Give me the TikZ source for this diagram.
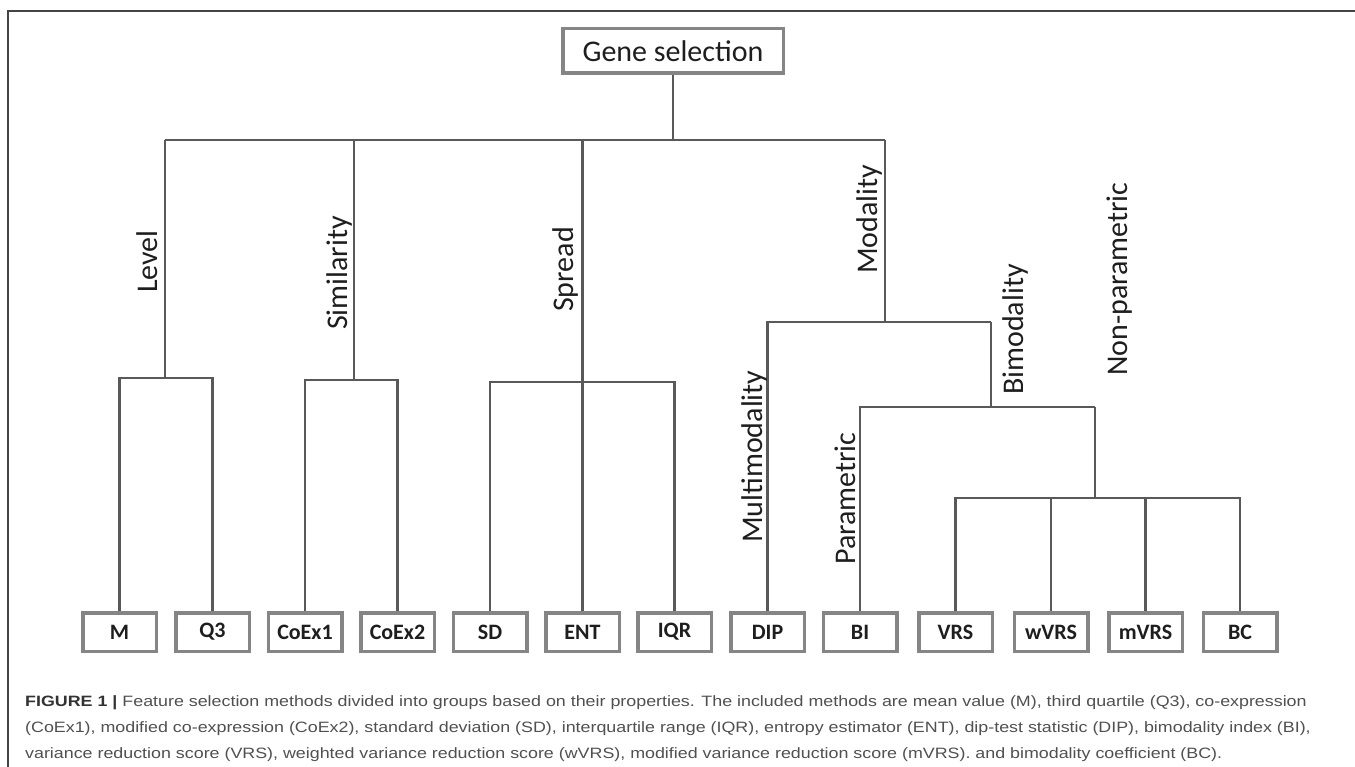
\documentclass[tikz,border=0pt]{standalone}
\usepackage{fontspec}
\setmainfont{Carlito}
\newfontfamily\capfont[FakeStretch=1.19]{Liberation Sans}
\definecolor{linec}{HTML}{595959}
\definecolor{boxc}{HTML}{858585}
\definecolor{framec}{HTML}{444444}
\definecolor{capc}{HTML}{505050}
\definecolor{capb}{HTML}{333333}
\definecolor{labc}{HTML}{1E1E1E}
\begin{document}
\begin{tikzpicture}[x=1pt,y=-1pt,
  leaf/.style={draw=boxc,line width=3.5pt,minimum width=73.5pt,minimum height=38.5pt,inner sep=0pt,
    font=\fontsize{22}{22}\selectfont\bfseries,text=labc},
  rootbox/.style={draw=boxc,line width=3.5pt,minimum width=220.5pt,minimum height=44.5pt,inner sep=0pt,
    font=\fontsize{30}{30}\selectfont,text=labc},
  conn/.style={draw=linec,line width=2.5pt},
  lab/.style={rotate=90,anchor=base west,inner sep=0pt,font=\fontsize{30}{30}\selectfont,text=labc},
]
\useasboundingbox (0,0) rectangle (1355,767);
\fill[white] (0,0) rectangle (1355,767);
% frame
\draw[framec,line width=1.6pt] (8,767) -- (8,11) -- (1355,11);

% root
\node[rootbox] (gs) at (673,51) {Gene selection};

% leaves
\node[leaf] (M) at (119.5,632) {M};
\node[leaf] (Q3) at (212.5,632) {Q3};
\node[leaf] (CoEx1) at (305,632) {CoEx1};
\node[leaf] (CoEx2) at (397.5,632) {CoEx2};
\node[leaf] (SD) at (490,632) {SD};
\node[leaf] (ENT) at (582.5,632) {ENT};
\node[leaf] (IQR) at (674.5,632) {IQR};
\node[leaf] (DIP) at (767.5,632) {DIP};
\node[leaf] (BI) at (860,632) {BI};
\node[leaf] (VRS) at (955.5,632) {VRS};
\node[leaf] (wVRS) at (1051,632) {wVRS};
\node[leaf] (mVRS) at (1145.5,632) {mVRS};
\node[leaf] (BC) at (1240,632) {BC};

% junction coordinates
\coordinate (main) at (673,140);
\coordinate (mainL) at (165,140);
\coordinate (mainR) at (885,140);
\coordinate (lev) at (165,378);
\coordinate (sim) at (354,140);
\coordinate (simJ) at (354,380);
\coordinate (spr) at (582.5,140);
\coordinate (sprJ) at (582.5,382);
\coordinate (modJ) at (885,322);
\coordinate (bimJ) at (991,322);
\coordinate (bimK) at (991,407);
\coordinate (npJ) at (1095,407);
\coordinate (npK) at (1095,498);

% connectors
\draw[conn] (gs.south) -- (main);
\draw[conn] (mainL) -- (mainR);
% Level
\draw[conn] (mainL) -- (lev);
\draw[conn] (M.north) |- (lev) -| (Q3.north);
% Similarity
\draw[conn] (sim) -- (simJ);
\draw[conn] (CoEx1.north) |- (simJ) -| (CoEx2.north);
% Spread
\draw[conn] (spr) -- (ENT.north);
\draw[conn] (SD.north) |- (sprJ) -| (IQR.north);
% Modality
\draw[conn] (mainR) -- (modJ);
\draw[conn] (DIP.north) |- (modJ) -- (bimJ);
\draw[conn] (bimJ) -- (bimK);
\draw[conn] (BI.north) |- (bimK) -- (npJ);
\draw[conn] (npJ) -- (npK);
\draw[conn] (VRS.north) |- (npK) -| (BC.north);
\draw[conn] (wVRS.north) -- (wVRS.north |- npK);
\draw[conn] (mVRS.north) -- (mVRS.north |- npK);

% branch labels
\node[lab] (tLevel) at (157,293) {Level};
\node[lab] (tSim) at (347,330) {Similarity};
\node[lab] (tSpread) at (573,312) {Spread};
\node[lab] (tMod) at (877,274) {Modality};
\node[lab] (tMulti) at (762,543) {Multimodality};
\node[lab] (tPar) at (855,565) {Parametric};
\node[lab] (tBim) at (1023,395) {Bimodality};
\node[lab] (tNonp) at (1127,376) {Non-parametric};

% caption
\node[anchor=base west,inner sep=0pt,align=left,text=capc,
  font=\capfont\fontsize{15}{26}\selectfont] (cap) at (25,758)
{{\color{capb}\bfseries FIGURE 1 |} Feature selection methods divided into groups based on their properties. The included methods are mean value (M), third quartile (Q3), co-expression\\
(CoEx1), modified co-expression (CoEx2), standard deviation (SD), interquartile range (IQR), entropy estimator (ENT), dip-test statistic (DIP), bimodality index (BI),\\
variance reduction score (VRS), weighted variance reduction score (wVRS), modified variance reduction score (mVRS). and bimodality coefficient (BC).};
\end{tikzpicture}
\end{document}
